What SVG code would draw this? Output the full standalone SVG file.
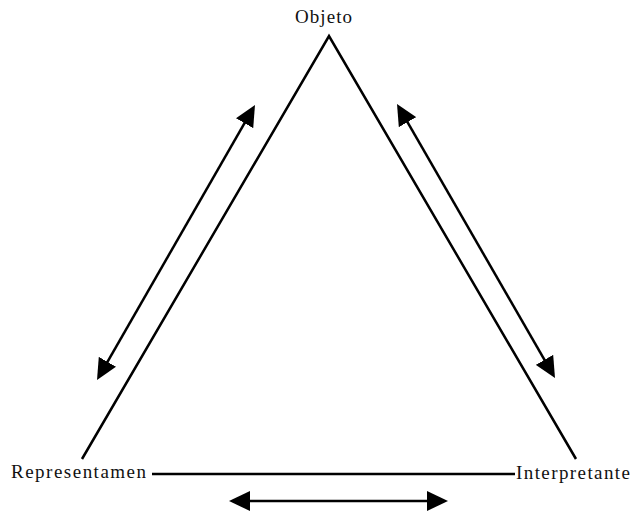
<svg xmlns="http://www.w3.org/2000/svg" width="633" height="512" viewBox="0 0 633 512">
  <style>
    .lbl { font-family: "Liberation Serif", "Times New Roman", serif; font-size: 19px; fill: #111; }
    .edge { stroke: #000; stroke-width: 2.5; fill: none; }
    .arr { stroke: #000; stroke-width: 2.5; fill: none; marker-start: url(#ah); marker-end: url(#ah); }
  </style>
  <defs>
    <marker id="ah" markerUnits="userSpaceOnUse" markerWidth="21" markerHeight="20" viewBox="0 0 21 20" refX="15" refY="10" orient="auto-start-reverse">
      <path d="M0,0 L21,10 L0,20 z" fill="#000"/>
    </marker>
  </defs>
  <rect width="633" height="512" fill="#fff"/>
  <g id="connectors">
    <polyline class="edge" points="82,459 329,36 576,459" stroke-linejoin="miter"/>
    <line class="edge" x1="152" y1="474" x2="515" y2="474"/>
    <line class="arr" x1="100" y1="374.8" x2="252" y2="110.2"/>
    <line class="arr" x1="400" y1="109.2" x2="552" y2="372.8"/>
    <line class="arr" x1="235" y1="501" x2="442" y2="501"/>
  </g>
  <g id="node-objeto">
    <text class="lbl" x="295" y="23" textLength="57" lengthAdjust="spacing">Objeto</text>
  </g>
  <g id="node-representamen">
    <text class="lbl" x="11" y="478" textLength="135" lengthAdjust="spacing">Representamen</text>
  </g>
  <g id="node-interpretante">
    <text class="lbl" x="516" y="479" textLength="114" lengthAdjust="spacing">Interpretante</text>
  </g>
</svg>
